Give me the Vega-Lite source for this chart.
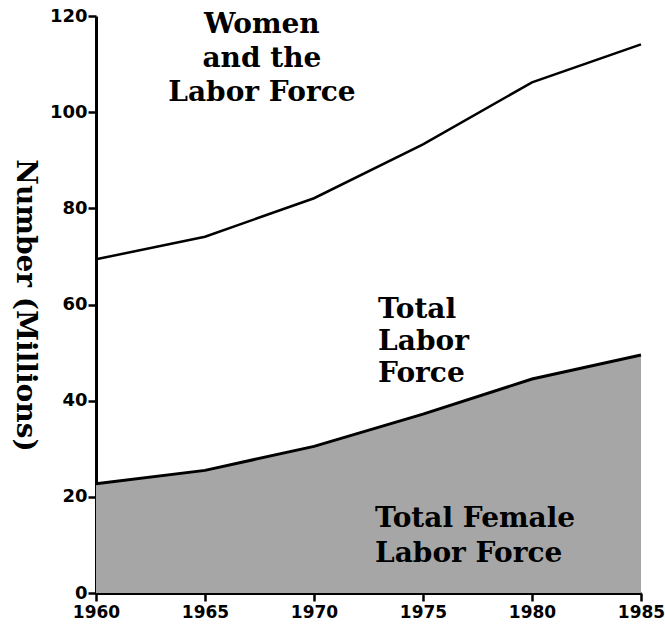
{
  "$schema": "https://vega.github.io/schema/vega-lite/v6.json",
  "width": 545,
  "height": 577,
  "autosize": "none",
  "padding": {"left": 96, "top": 16, "right": 24, "bottom": 39},
  "background": "white",
  "config": {"view": {"stroke": null}},
  "datasets": {
    "labor": [
      {"year": 1960, "total": 69.4, "female": 22.7},
      {"year": 1965, "total": 74.1, "female": 25.5},
      {"year": 1970, "total": 82.1, "female": 30.5},
      {"year": 1975, "total": 93.3, "female": 37.2},
      {"year": 1980, "total": 106.2, "female": 44.5},
      {"year": 1985, "total": 114.1, "female": 49.5}
    ],
    "notes": [
      {"block": "title", "year": 1967.61, "value": 116.5, "text": "Women"},
      {"block": "title", "year": 1967.61, "value": 109.4, "text": "and the"},
      {"block": "title", "year": 1967.61, "value": 102.3, "text": "Labor Force"},
      {"block": "left", "year": 1972.94, "value": 57.2, "text": "Total"},
      {"block": "left", "year": 1972.94, "value": 50.5, "text": "Labor"},
      {"block": "left", "year": 1972.94, "value": 43.9, "text": "Force"},
      {"block": "left", "year": 1972.8, "value": 13.7, "text": "Total Female"},
      {"block": "left", "year": 1972.8, "value": 6.45, "text": "Labor Force"}
    ]
  },
  "layer": [
    {
      "data": {"name": "labor"},
      "mark": {"type": "area", "color": "#a6a6a6", "opacity": 1, "fillOpacity": 1, "line": {"color": "black", "strokeWidth": 3}},
      "encoding": {
        "x": {
          "field": "year",
          "type": "quantitative",
          "scale": {"domain": [1960, 1985], "nice": false, "zero": false},
          "axis": {
            "values": [1960, 1965, 1970, 1975, 1980, 1985],
            "format": "d",
            "title": null,
            "grid": false,
            "labelFlush": false,
            "labelOverlap": false,
            "labelFont": "DejaVu Sans",
            "labelFontWeight": "bold",
            "labelFontSize": 17,
            "labelColor": "black",
            "labelPadding": 3,
            "labelBaseline": "top",
            "tickSize": 8,
            "tickWidth": 2.5,
            "tickColor": "black",
            "domainColor": "black",
            "domainWidth": 3
          }
        },
        "y": {
          "field": "female",
          "type": "quantitative",
          "scale": {"domain": [0, 120], "nice": false},
          "axis": {
            "values": [0, 20, 40, 60, 80, 100, 120],
            "title": "Number (Millions)",
            "titleFont": "DejaVu Serif",
            "titleFontWeight": "bold",
            "titleFontSize": 28,
            "titleColor": "black",
            "titleAngle": 90,
            "titleAlign": "center",
            "titleBaseline": "middle",
            "titleX": -72,
            "titleY": 289,
            "grid": false,
            "labelFont": "DejaVu Sans",
            "labelFontWeight": "bold",
            "labelFontSize": 18,
            "labelColor": "black",
            "labelPadding": 1,
            "tickSize": 8,
            "tickWidth": 2.5,
            "tickColor": "black",
            "domainColor": "black",
            "domainWidth": 3
          }
        }
      }
    },
    {
      "data": {"name": "labor"},
      "mark": {"type": "line", "color": "black", "strokeWidth": 2.5},
      "encoding": {
        "x": {"field": "year", "type": "quantitative"},
        "y": {"field": "total", "type": "quantitative"}
      }
    },
    {
      "data": {"name": "notes"},
      "transform": [{"filter": "datum.block === 'title'"}],
      "mark": {"type": "text", "font": "DejaVu Serif", "fontWeight": "bold", "fontSize": 28, "align": "center", "baseline": "alphabetic", "color": "black"},
      "encoding": {
        "x": {"field": "year", "type": "quantitative"},
        "y": {"field": "value", "type": "quantitative"},
        "text": {"field": "text"}
      }
    },
    {
      "data": {"name": "notes"},
      "transform": [{"filter": "datum.block === 'left'"}],
      "mark": {"type": "text", "font": "DejaVu Serif", "fontWeight": "bold", "fontSize": 28, "align": "left", "baseline": "alphabetic", "color": "black"},
      "encoding": {
        "x": {"field": "year", "type": "quantitative"},
        "y": {"field": "value", "type": "quantitative"},
        "text": {"field": "text"}
      }
    }
  ]
}
